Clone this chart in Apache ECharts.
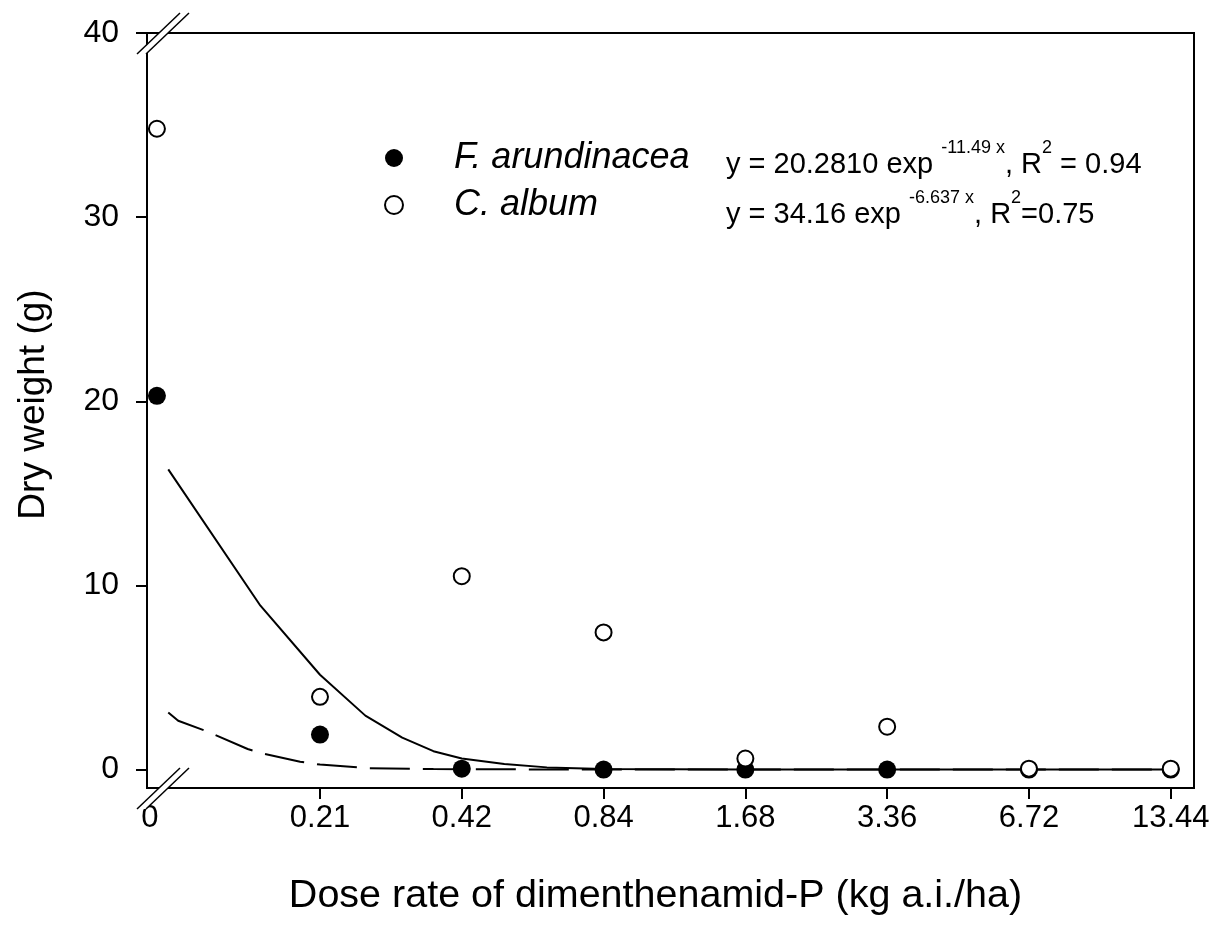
<!DOCTYPE html>
<html lang="en">
<head>
    <meta charset="UTF-8">
    <title>Dry weight vs dose rate</title>
    <style>
        html, body { margin: 0; padding: 0; background: #fff; }
        #main { width: 1220px; height: 931px; }
    </style>
</head>
<body>
<div id="main"></div>

<script src="https://cdn.jsdelivr.net/npm/echarts@6/dist/echarts.min.js"></script>
<script type="text/javascript">
    // dose labels and where each sits on the broken x axis (0 is squeezed in before the break)
    var doseLabels = ['0', '0.21', '0.42', '0.84', '1.68', '3.36', '6.72', '13.44'];
    var doseAxisPos = [-0.15, 1, 2, 3, 4, 5, 6, 7];
    var yTicks = [0, 10, 20, 30, 40];

    // measured dry weight (g)
    var fArundinacea = [20.3, 1.9, 0.05, 0, 0, 0, 0, 0];
    var cAlbum = [34.8, 3.95, 10.5, 7.45, 0.6, 2.33, 0.05, 0.05];

    // fitted curves as drawn (axis position, value)
    var fitSolidX = [-0.07, 0.58, 1.0, 1.32, 1.58, 1.8, 2.0, 2.3, 2.6, 3.0, 4, 5, 6, 7];
    var fitSolidY = [16.3, 8.9, 5.15, 2.93, 1.74, 1.0, 0.6, 0.3, 0.12, 0.03, 0, 0, 0, 0];
    var fitDashX = [-0.07, 0.0, 0.2, 0.49, 0.58, 0.86, 1.0, 1.33, 1.8, 2.5, 3, 4, 5, 6, 7];
    var fitDashY = [3.1, 2.65, 2.08, 1.12, 0.9, 0.43, 0.27, 0.08, 0.03, 0.01, 0, 0, 0, 0, 0];

    function zip(xs, ys) {
        return xs.map(function (x, i) { return [x, ys[i]]; });
    }

    var labelPos = doseAxisPos.slice();
    labelPos[0] = -0.2;

    var myChart = echarts.init(document.getElementById('main'));
    var fontFam = '"Liberation Sans", Arial, sans-serif';

    // little double slash for the axis breaks
    function breakMark(x, y) {
        return [
            {
                type: 'polygon', z: 100,
                shape: { points: [[x - 10, y + 21], [x + 33, y - 20], [x + 42, y - 20], [x - 1, y + 21]] },
                style: { fill: '#fff' }
            },
            {
                type: 'line', z: 101,
                shape: { x1: x - 10, y1: y + 21, x2: x + 33, y2: y - 20 },
                style: { stroke: '#000', lineWidth: 1.5 }
            },
            {
                type: 'line', z: 101,
                shape: { x1: x - 1, y1: y + 21, x2: x + 42, y2: y - 20 },
                style: { stroke: '#000', lineWidth: 1.5 }
            }
        ];
    }

    var eqRich = {
        m: { fontSize: 29, fontFamily: fontFam, color: '#000', lineHeight: 40, verticalAlign: 'bottom' },
        s: { fontSize: 18, fontFamily: fontFam, color: '#000', verticalAlign: 'top' }
    };

    option = {
        backgroundColor: '#fff',
        animation: false,
        grid: {
            left: 147, right: 26, top: 33, bottom: 143,
            show: true, borderColor: '#000', borderWidth: 2
        },
        legend: {
            data: [
                { name: 'F. arundinacea', icon: 'circle' },
                { name: 'C. album', icon: 'circle' }
            ],
            orient: 'vertical',
            left: 384, top: 140,
            padding: 0,
            itemWidth: 18, itemHeight: 18,
            itemGap: 11,
            textStyle: {
                fontSize: 36, fontStyle: 'italic', fontFamily: fontFam, color: '#000',
                lineHeight: 36, padding: [0, 0, 0, 46]
            }
        },
        xAxis: {
            type: 'value',
            min: -0.22, max: 7.164,
            splitLine: { show: false },
            axisLine: { onZero: false, lineStyle: { color: '#000', width: 2 } },
            axisTick: {
                customValues: doseAxisPos.slice(1),
                length: 11, lineStyle: { color: '#000', width: 2 }
            },
            axisLabel: {
                customValues: labelPos,
                margin: 15,
                fontSize: 31, fontFamily: fontFam, color: '#000',
                formatter: function (v) {
                    var i = labelPos.indexOf(v);
                    return i >= 0 ? doseLabels[i] : '';
                }
            },
            name: 'Dose rate of dimenthenamid-P (kg a.i./ha)',
            nameLocation: 'middle',
            nameGap: 88,
            nameTextStyle: { fontSize: 39.5, fontFamily: fontFam, color: '#000', padding: [0, 30, 0, 0] }
        },
        yAxis: {
            type: 'value',
            min: -1, max: 40,
            splitLine: { show: false },
            axisLine: { onZero: false, lineStyle: { color: '#000', width: 2 } },
            axisTick: {
                customValues: yTicks,
                length: 11, lineStyle: { color: '#000', width: 2 }
            },
            axisLabel: {
                customValues: yTicks,
                margin: 28,
                fontSize: 32, fontFamily: fontFam, color: '#000'
            },
            name: 'Dry weight (g)',
            nameLocation: 'middle',
            nameGap: 95,
            nameTextStyle: { fontSize: 37, fontFamily: fontFam, color: '#000', padding: [0, 0, 0, 12] }
        },
        graphic: [].concat(
            breakMark(147, 33),
            breakMark(147, 788),
            [
                {
                    type: 'text', left: 726, top: 139, z: 50,
                    style: {
                        text: '{m|y = 20.2810 exp }{s|-11.49 x}{m|, R}{s|2}{m| = 0.94}',
                        rich: eqRich
                    }
                },
                {
                    type: 'text', left: 726, top: 189, z: 50,
                    style: {
                        text: '{m|y = 34.16 exp }{s|-6.637 x}{m|, R}{s|2}{m|=0.75}',
                        rich: eqRich
                    }
                }
            ]
        ),
        series: [
            {
                name: 'fit F',
                type: 'line',
                data: zip(fitSolidX, fitSolidY),
                symbol: 'none',
                lineStyle: { color: '#000', width: 2 },
                z: 2
            },
            {
                name: 'fit C',
                type: 'line',
                data: zip(fitDashX, fitDashY),
                symbol: 'none',
                lineStyle: { color: '#000', width: 2, type: [40, 13] },
                z: 2
            },
            {
                name: 'F. arundinacea',
                type: 'scatter',
                data: zip(doseAxisPos, fArundinacea),
                symbol: 'circle',
                symbolSize: 18,
                itemStyle: { color: '#000', opacity: 1 },
                z: 3
            },
            {
                name: 'C. album',
                type: 'scatter',
                data: zip(doseAxisPos, cAlbum),
                symbol: 'circle',
                symbolSize: 16,
                itemStyle: { color: '#fff', borderColor: '#000', borderWidth: 2, opacity: 1 },
                z: 4
            }
        ]
    };
    myChart.setOption(option);
</script>

</body>
</html>
